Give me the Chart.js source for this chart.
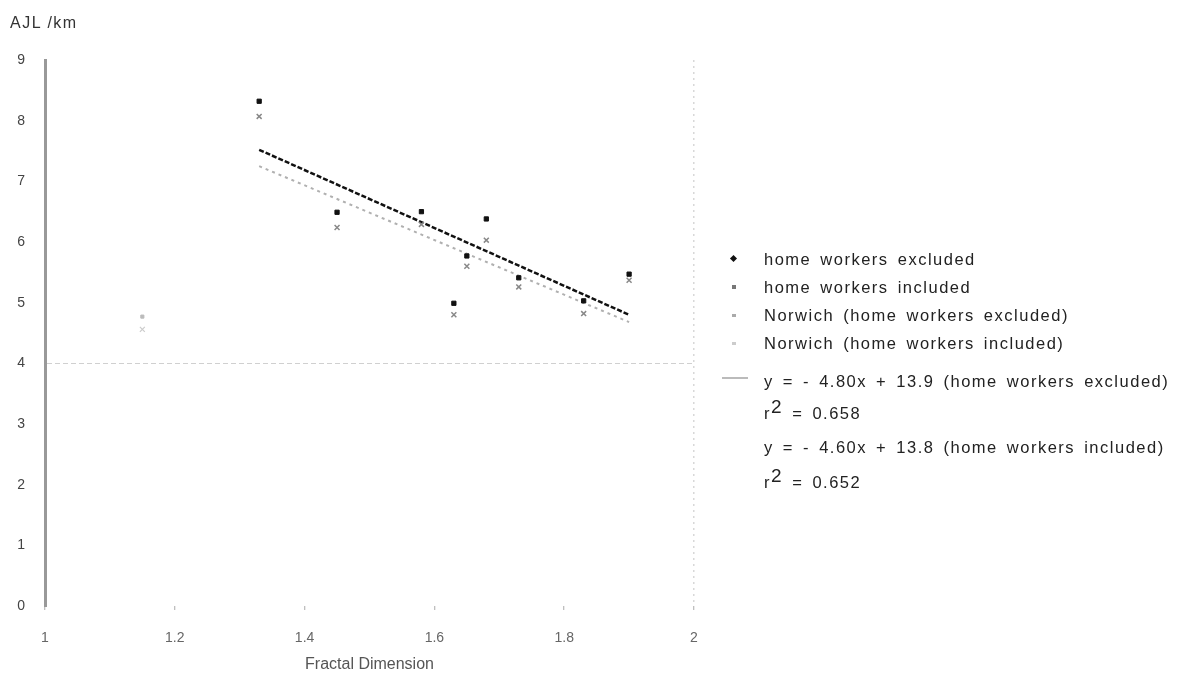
<!DOCTYPE html>
<html><head><meta charset="utf-8">
<script src="https://cdn.jsdelivr.net/npm/chart.js@4"></script>
<style>
html,body{margin:0;padding:0;background:#fff;}
#wrap{position:relative;width:1178px;height:675px;font-family:"Liberation Sans",Arial,sans-serif;}
#c{position:absolute;left:0;top:0;}
#ytitle{position:absolute;left:10px;top:14px;font-size:16px;color:#333;letter-spacing:1.5px;}
.lg{position:absolute;left:764px;font-size:16.5px;color:#222;white-space:nowrap;line-height:20px;letter-spacing:1.5px;word-spacing:3px;}
.mk{position:absolute;}
sup{font-size:19px;vertical-align:6px;line-height:0;}
</style></head>
<body><div id="wrap">
<canvas id="c" width="1178" height="675"></canvas>
<div id="ytitle">AJL /km</div>
<div class="mk" style="left:731px;top:256px;width:5px;height:5px;background:#111;transform:rotate(45deg);"></div>
<div class="lg" style="top:249px">home workers excluded</div>
<div class="mk" style="left:732px;top:285px;width:4px;height:4px;background:#777;"></div>
<div class="lg" style="top:277px">home workers included</div>
<div class="mk" style="left:732px;top:314px;width:4px;height:3px;background:#aaa;"></div>
<div class="lg" style="top:305px">Norwich (home workers excluded)</div>
<div class="mk" style="left:732px;top:342px;width:4px;height:3px;background:#ccc;"></div>
<div class="lg" style="top:333px">Norwich (home workers included)</div>
<div class="mk" style="left:722px;top:377px;width:26px;height:2px;background:#bbb;"></div>
<div class="lg" style="top:371px">y = - 4.80x + 13.9 (home workers excluded)</div>
<div class="lg" style="top:403px">r<sup>2</sup> = 0.658</div>
<div class="lg" style="top:437px">y = - 4.60x + 13.8 (home workers included)</div>
<div class="lg" style="top:472px">r<sup>2</sup> = 0.652</div>
</div>
<script>
// Data
const fractalDim = [1.33, 1.45, 1.58, 1.63, 1.65, 1.68, 1.73, 1.83, 1.90];
const ajlExcluded = [8.32, 6.49, 6.50, 4.99, 5.77, 6.38, 5.41, 5.03, 5.47];
const ajlIncluded = [8.07, 6.24, 6.29, 4.80, 5.60, 6.03, 5.26, 4.82, 5.37];
const norwichDim = [1.15];
const norwichExcluded = [4.77];
const norwichIncluded = [4.56];
const trendX = [1.33, 1.90];
const trendExcluded = [7.52, 4.80];
const trendIncluded = [7.25, 4.68];
const xTicks = [1, 1.2, 1.4, 1.6, 1.8, 2];
const yTicks = [0, 1, 2, 3, 4, 5, 6, 7, 8, 9];

const pts = (xs, ys) => xs.map((x, i) => ({x, y: ys[i]}));

new Chart(document.getElementById('c'), {
  type: 'scatter',
  data: {
    datasets: [
      {label: 'trend included', type: 'line', data: pts(trendX, trendIncluded), borderColor: '#b0b0b0', borderWidth: 2, borderDash: [3, 4], pointRadius: 0, fill: false, order: 5},
      {label: 'trend excluded', type: 'line', data: pts(trendX, trendExcluded), borderColor: '#111', borderWidth: 2.5, borderDash: [5, 2], pointRadius: 0, fill: false, order: 4},
      {label: 'home workers included', data: pts(fractalDim, ajlIncluded), pointStyle: 'crossRot', pointRadius: 3.5, borderColor: '#888', borderWidth: 1.5, backgroundColor: '#888', order: 3},
      {label: 'home workers excluded', data: pts(fractalDim, ajlExcluded), pointStyle: 'rect', pointRadius: 3, borderColor: '#111', borderWidth: 1, backgroundColor: '#111', order: 2},
      {label: 'Norwich (home workers excluded)', data: pts(norwichDim, norwichExcluded), pointStyle: 'rect', pointRadius: 2.2, borderColor: '#bbb', backgroundColor: '#bbb', order: 1},
      {label: 'Norwich (home workers included)', data: pts(norwichDim, norwichIncluded), pointStyle: 'crossRot', pointRadius: 3.5, borderColor: '#ccc', borderWidth: 1.2, backgroundColor: '#ccc', order: 1}
    ]
  },
  options: {
    responsive: false,
    animation: false,
    layout: {padding: {top: 60, right: 484, left: 0, bottom: 0}},
    plugins: {legend: {display: false}, tooltip: {enabled: false}},
    scales: {
      x: {
        type: 'linear', min: 1, max: 2,
        afterBuildTicks: s => { s.ticks = xTicks.map(v => ({value: v})); },
        afterFit: s => { s.height = 69; },
        ticks: {padding: 20, color: '#666', font: {family: 'Liberation Sans', size: 14}, callback: v => String(v)},
        grid: {
          color: c => (c.tick && c.tick.value === 2) ? '#d8d8d8' : 'transparent',
          lineWidth: 1.5,
          drawTicks: true, tickLength: 4, tickColor: '#aaa', tickWidth: 1
        },
        border: {display: false, dash: [2, 4]},
        title: {display: true, text: 'Fractal Dimension', color: '#555', font: {family: 'Liberation Sans', size: 16}, padding: {top: 0, bottom: 1}}
      },
      y: {
        type: 'linear', min: 0, max: 9,
        afterBuildTicks: s => { s.ticks = yTicks.map(v => ({value: v})); },
        afterFit: s => { s.width = 45; },
        ticks: {padding: 20, color: '#444', font: {family: 'Liberation Sans', size: 14}},
        grid: {
          color: c => (c.tick && c.tick.value === 4) ? '#d0d0d0' : 'transparent',
          lineWidth: 1,
          drawTicks: false
        },
        border: {display: true, color: '#999', width: 3, dash: [5, 3]}
      }
    }
  }
});
</script>
</body></html>
